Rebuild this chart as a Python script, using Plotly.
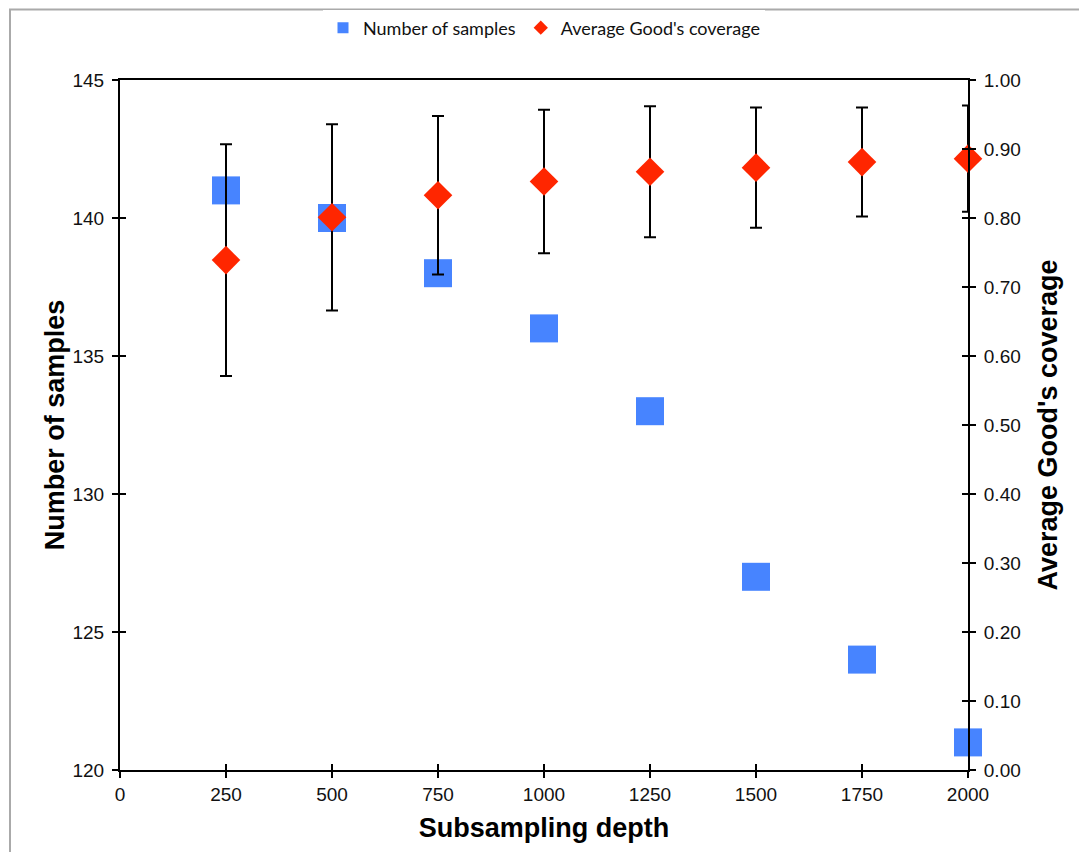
import plotly.graph_objects as go

depth = [250, 500, 750, 1000, 1250, 1500, 1750, 2000]
num_samples = [141, 140, 138, 136, 133, 127, 124, 121]
coverage = [0.739, 0.801, 0.833, 0.853, 0.867, 0.873, 0.881, 0.886]
coverage_sd = [0.168, 0.135, 0.115, 0.104, 0.095, 0.087, 0.079, 0.077]

BLUE = "#4784FF"
RED = "#FF2600"
tickfont = dict(family="Liberation Sans, Arial, sans-serif", size=19, color="#111")
titlefont = dict(family="Liberation Sans, Arial, sans-serif", size=27, color="#000", weight="bold")

fig = go.Figure()

fig.add_trace(go.Scatter(
    x=depth, y=num_samples, mode="markers", name="Number of samples",
    marker=dict(symbol="square", size=28, color=BLUE), showlegend=False,
    yaxis="y", cliponaxis=False))
fig.add_trace(go.Scatter(
    x=depth, y=coverage, mode="markers", name="Average Good's coverage",
    marker=dict(symbol="diamond", size=22, color=RED),
    error_y=dict(type="data", array=coverage_sd, color="#000", thickness=2, width=6),
    showlegend=False, yaxis="y2", cliponaxis=False))

# legend entries
fig.add_trace(go.Scatter(x=[None], y=[None], mode="markers", name="Number of samples",
                         marker=dict(symbol="square", size=11, color=BLUE)))
fig.add_trace(go.Scatter(x=[None], y=[None], mode="markers", name="Average Good's coverage",
                         marker=dict(symbol="diamond", size=11, color=RED), yaxis="y2"))

axline = dict(showline=True, linecolor="#000", linewidth=2, showgrid=False, zeroline=False,
              ticks="outside", ticklen=6, tickwidth=2, tickcolor="#000")

fig.update_layout(
    width=1087, height=852,
    margin=dict(l=112, r=127, t=72, b=90, autoexpand=False),
    paper_bgcolor="white", plot_bgcolor="white",
    xaxis=dict(range=[0, 2000], tickvals=[0, 250, 500, 750, 1000, 1250, 1500, 1750, 2000],
               tickfont=tickfont, mirror=True,
               title=dict(text="Subsampling depth", font=titlefont, standoff=14), **axline),
    yaxis=dict(range=[120, 145], tickvals=[120, 125, 130, 135, 140, 145], tickfont=tickfont,
               ticklabelstandoff=4,
               title=dict(text="Number of samples", font=titlefont, standoff=0), **axline),
    yaxis2=dict(range=[0, 1], overlaying="y", side="right",
                tickvals=[0, 0.1, 0.2, 0.3, 0.4, 0.5, 0.6, 0.7, 0.8, 0.9, 1.0],
                tickformat=".2f", tickfont=tickfont, ticklabelstandoff=4,
                title=dict(text="Average Good's coverage", font=titlefont, standoff=18), **axline),
    # inside tick companions so ticks cross the axis lines
    xaxis2=dict(range=[0, 2000], overlaying="x", side="bottom", showticklabels=False,
                tickvals=[0, 250, 500, 750, 1000, 1250, 1500, 1750, 2000],
                ticks="inside", ticklen=6, tickwidth=2, tickcolor="#000",
                showgrid=False, zeroline=False, showline=False),
    yaxis3=dict(range=[120, 145], overlaying="y", side="left", showticklabels=False,
                tickvals=[120, 125, 130, 135, 140, 145],
                ticks="inside", ticklen=6, tickwidth=2, tickcolor="#000",
                showgrid=False, zeroline=False, showline=False),
    yaxis4=dict(range=[0, 1], overlaying="y", side="right", showticklabels=False,
                tickvals=[0, 0.1, 0.2, 0.3, 0.4, 0.5, 0.6, 0.7, 0.8, 0.9, 1.0],
                ticks="inside", ticklen=6, tickwidth=2, tickcolor="#000",
                showgrid=False, zeroline=False, showline=False),
    legend=dict(orientation="h", x=0.5, xanchor="center", y=1.0 + 52/690, yanchor="middle",
                font=dict(family="Lato, Open Sans, sans-serif", size=18, color="#111"),
                itemsizing="trace", tracegroupgap=0, itemwidth=30),
    shapes=[dict(type="rect", xref="paper", yref="paper",
                 x0=-110/848, x1=1.2, y0=-0.2, y1=(770-9.5)/690,
                 line=dict(color="#aaaaaa", width=2), layer="below")],
)

# dummy traces to activate companion axes
fig.add_trace(go.Scatter(x=[None], y=[None], xaxis="x2", yaxis="y3", showlegend=False))
fig.add_trace(go.Scatter(x=[None], y=[None], xaxis="x2", yaxis="y4", showlegend=False))

fig.write_html("out.html")
